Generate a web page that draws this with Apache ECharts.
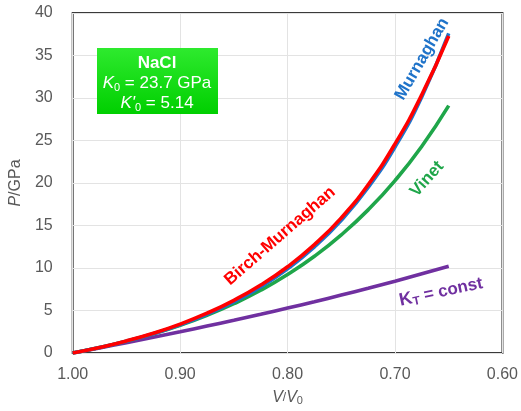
<!DOCTYPE html>
<html>
<head>
<meta charset="utf-8" />
<title>NaCl EOS</title>
<script src="https://cdn.jsdelivr.net/npm/echarts@6/dist/echarts.min.js"></script>
<style>
  html, body { margin: 0; padding: 0; background: #fff; }
  #chart { width: 521px; height: 411px; }
</style>
</head>
<body>
<div id="chart"></div>
<script>
// V/V0 sample points and pressure (GPa)
const volumes = [1.00, 0.975, 0.95, 0.925, 0.90, 0.875, 0.85, 0.825, 0.80, 0.775, 0.75, 0.725, 0.70, 0.675, 0.65];
const murnaghan = [0, 0.64, 1.39, 2.27, 3.31, 4.55, 6.02, 7.78, 9.91, 12.48, 15.62, 19.47, 24.23, 30.16, 37.6];
const birchMurnaghan = [0, 0.65, 1.42, 2.33, 3.40, 4.68, 6.20, 8.00, 10.15, 12.75, 15.9, 19.8, 24.6, 30.4, 37.3];
const vinet = [0, 0.64, 1.39, 2.25, 3.26, 4.43, 5.80, 7.38, 9.23, 11.38, 13.90, 16.84, 20.28, 24.32, 29.1];
const kTConst = [0, 0.60, 1.22, 1.85, 2.50, 3.17, 3.85, 4.56, 5.29, 6.04, 6.82, 7.62, 8.45, 9.32, 10.21];

const xTicks = [1.00, 0.90, 0.80, 0.70, 0.60];

const font = 'Liberation Sans, Arial, sans-serif';
const labelGray = '#595959';

const pairs = function (ys) {
  return volumes.map(function (v, i) { return [v, ys[i]]; });
};

const line = function (name, ys, color) {
  return {
    name: name,
    type: 'line',
    data: pairs(ys),
    smooth: true,
    showSymbol: false,
    lineStyle: { color: color, width: 3.6 },
    itemStyle: { color: color }
  };
};

const chart = echarts.init(document.getElementById('chart'));

const option = {
  animation: false,
  grid: {
    left: 72, right: 15, top: 13, bottom: 58,
    show: true,
    borderColor: '#3a3a3a',
    borderWidth: 2
  },
  xAxis: {
    type: 'value',
    inverse: true,
    min: 0.6,
    max: 1.0,
    interval: 0.1,
    name: '{i|V}/{i|V}{s|0}',
    nameLocation: 'middle',
    nameGap: 36,
    nameTextStyle: {
      rich: {
        i: { fontFamily: font, fontSize: 16, fontStyle: 'italic', color: labelGray },
        s: { fontFamily: font, fontSize: 11, color: labelGray, verticalAlign: 'bottom', padding: [6, 0, 0, 0] }
      }
    },
    axisLine: { show: false },
    axisTick: { show: false },
    splitLine: { show: true, lineStyle: { color: '#e3e3e3', width: 1 } },
    axisLabel: {
      color: labelGray,
      fontFamily: font,
      fontSize: 16,
      margin: 14,
      formatter: function (v) {
        const t = xTicks.find(function (k) { return Math.abs(k - v) < 1e-6; });
        return t === undefined ? '' : t.toFixed(2);
      }
    }
  },
  yAxis: {
    type: 'value',
    min: 0,
    max: 40,
    interval: 5,
    name: '{i|P}/GPa',
    nameLocation: 'middle',
    nameGap: 42,
    nameTextStyle: {
      color: labelGray,
      fontFamily: font,
      fontSize: 16,
      rich: {
        i: { fontFamily: font, fontSize: 16, fontStyle: 'italic', color: labelGray }
      }
    },
    axisLine: { show: false },
    axisTick: { show: false },
    splitLine: { show: true, lineStyle: { color: '#e3e3e3', width: 1 } },
    axisLabel: { color: labelGray, fontFamily: font, fontSize: 16, margin: 20 }
  },
  series: [
    line('KT = const', kTConst, '#7030a0'),
    line('Vinet', vinet, '#1fa64a'),
    line('Murnaghan', murnaghan, '#1f73c9'),
    line('Birch-Murnaghan', birchMurnaghan, '#ff0000')
  ],
  graphic: [
    {
      type: 'rect',
      shape: { x: 97, y: 48, width: 121, height: 66 },
      style: {
        fill: new echarts.graphic.LinearGradient(0, 0, 0, 1, [
          { offset: 0, color: '#2eea2e' },
          { offset: 1, color: '#00cf00' }
        ])
      },
      z: 10
    },
    {
      type: 'text',
      x: 157, y: 83,
      z: 11,
      style: {
        text: '{b|NaCl}\n{i|K}{s|0}{n| = 23.7 GPa}\n{i|K\'}{s|0}{n| = 5.14}',
        align: 'center',
        verticalAlign: 'middle',
        fill: '#fff',
        rich: {
          b: { fontFamily: font, fontSize: 17, fontWeight: 'bold', fill: '#fff', lineHeight: 20 },
          i: { fontFamily: font, fontSize: 17, fontStyle: 'italic', fill: '#fff', lineHeight: 20 },
          s: { fontFamily: font, fontSize: 11, fill: '#fff', lineHeight: 20, verticalAlign: 'bottom', padding: [8, 0, 0, 0] },
          n: { fontFamily: font, fontSize: 17, fill: '#fff', lineHeight: 20 }
        }
      }
    },
    {
      type: 'text', x: 422, y: 59, rotation: 60 * Math.PI / 180, z: 12,
      style: { text: 'Murnaghan', align: 'center', verticalAlign: 'middle', fill: '#1f73c9',
        fontFamily: font, fontSize: 17, fontWeight: 'bold' }
    },
    {
      type: 'text', x: 280, y: 236, rotation: 41 * Math.PI / 180, z: 12,
      style: { text: 'Birch-Murnaghan', align: 'center', verticalAlign: 'middle', fill: '#ff0000',
        fontFamily: font, fontSize: 17, fontWeight: 'bold' }
    },
    {
      type: 'text', x: 427, y: 179, rotation: 48 * Math.PI / 180, z: 12,
      style: { text: 'Vinet', align: 'center', verticalAlign: 'middle', fill: '#1fa64a',
        fontFamily: font, fontSize: 17, fontWeight: 'bold' }
    },
    {
      type: 'text', x: 441, y: 292, rotation: 12 * Math.PI / 180, z: 12,
      style: {
        text: '{k|K}{t|T}{n| = const}',
        align: 'center', verticalAlign: 'middle', fill: '#7030a0',
        rich: {
          k: { fontFamily: font, fontSize: 18, fontWeight: 'bold', fill: '#7030a0', lineHeight: 20 },
          t: { fontFamily: font, fontSize: 12, fontWeight: 'bold', fill: '#7030a0', lineHeight: 20, verticalAlign: 'bottom', padding: [4, 0, 0, 0] },
          n: { fontFamily: font, fontSize: 17, fontWeight: 'bold', fill: '#7030a0', lineHeight: 20 }
        }
      }
    }
  ]
};

chart.setOption(option);
window.onresize = function () { chart.resize(); };
</script>
</body>
</html>
